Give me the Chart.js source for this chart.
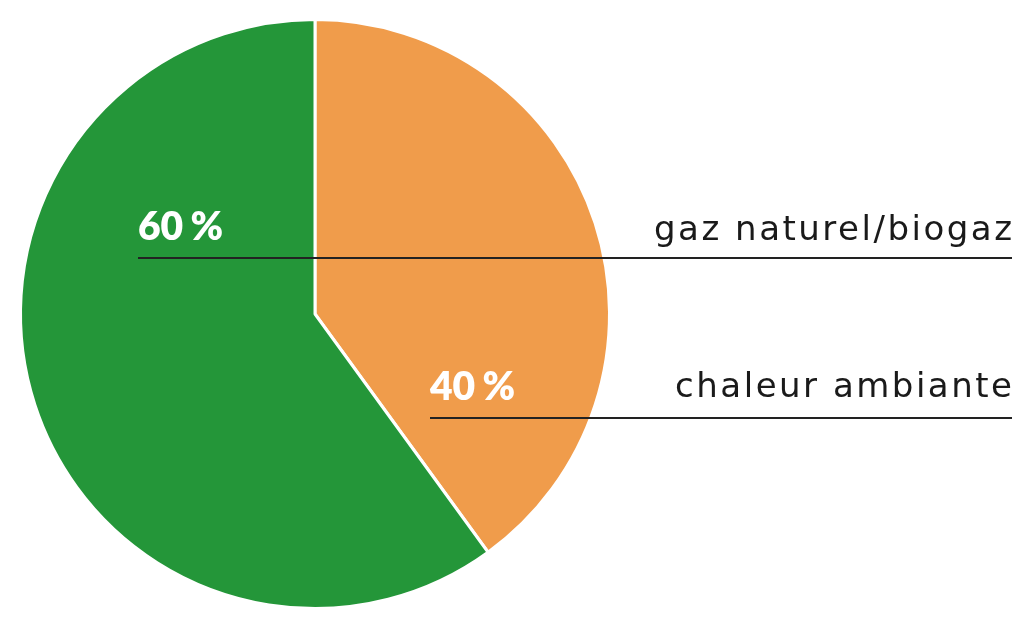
<!DOCTYPE html>
<html>
<head>
<meta charset="utf-8">
<script src="https://cdn.jsdelivr.net/npm/chart.js@4/dist/chart.umd.min.js"></script>
<style>
  html, body { margin: 0; padding: 0; background: #fff; }
  #wrap { width: 1035px; height: 630px; position: relative; }
</style>
</head>
<body>
<div id="wrap"><canvas id="chart"></canvas></div>
<script>
// data
const labels = ["chaleur ambiante", "gaz naturel/biogaz"];
const values = [40, 60];
const colors = ["#F09C4B", "#249639"];

// label placement, relative to pie center (px)
const calloutPos = [
  { tx: 430 - 315, ty: 400 - 314, ly: 418 - 314, lx: 430 - 315, nameY: 397 - 314 },
  { tx: 138 - 315, ty: 240 - 314, ly: 258 - 314, lx: 138 - 315, nameY: 240 - 314 }
];
const rightEdge = 1012;

const callouts = {
  id: "callouts",
  afterDatasetsDraw(chart) {
    const ctx = chart.ctx;
    const arc = chart.getDatasetMeta(0).data[0];
    const cx = arc.x, cy = arc.y;
    ctx.save();
    values.forEach((v, i) => {
      const p = calloutPos[i];
      // leader line
      ctx.strokeStyle = "#222";
      ctx.lineWidth = 2;
      ctx.beginPath();
      ctx.moveTo(cx + p.lx, cy + p.ly);
      ctx.lineTo(rightEdge, cy + p.ly);
      ctx.stroke();
      // percent
      ctx.fillStyle = "#fff";
      ctx.letterSpacing = "0px";
      ctx.font = "800 39px Lato";
      ctx.textAlign = "left";
      ctx.textBaseline = "alphabetic";
      ctx.fillText(v + "\u2009\u200A%", cx + p.tx, cy + p.ty);
      // category label
      ctx.fillStyle = "#1a1a1a";
      ctx.letterSpacing = "2.5px";
      ctx.font = "400 34px 'DejaVu Sans'";
      ctx.textAlign = "right";
      ctx.fillText(labels[i], rightEdge + 2.5, cy + p.nameY);
    });
    ctx.restore();
  }
};

new Chart(document.getElementById("chart"), {
  type: "pie",
  data: {
    labels: labels,
    datasets: [{
      data: values,
      backgroundColor: colors,
      borderColor: "#fff",
      borderWidth: 3
    }]
  },
  options: {
    responsive: true,
    maintainAspectRatio: false,
    animation: false,
    layout: { padding: { left: 19, top: 18, right: 424, bottom: 20 } },
    plugins: {
      legend: { display: false },
      tooltip: { enabled: false }
    }
  },
  plugins: [callouts]
});
</script>
</body>
</html>
